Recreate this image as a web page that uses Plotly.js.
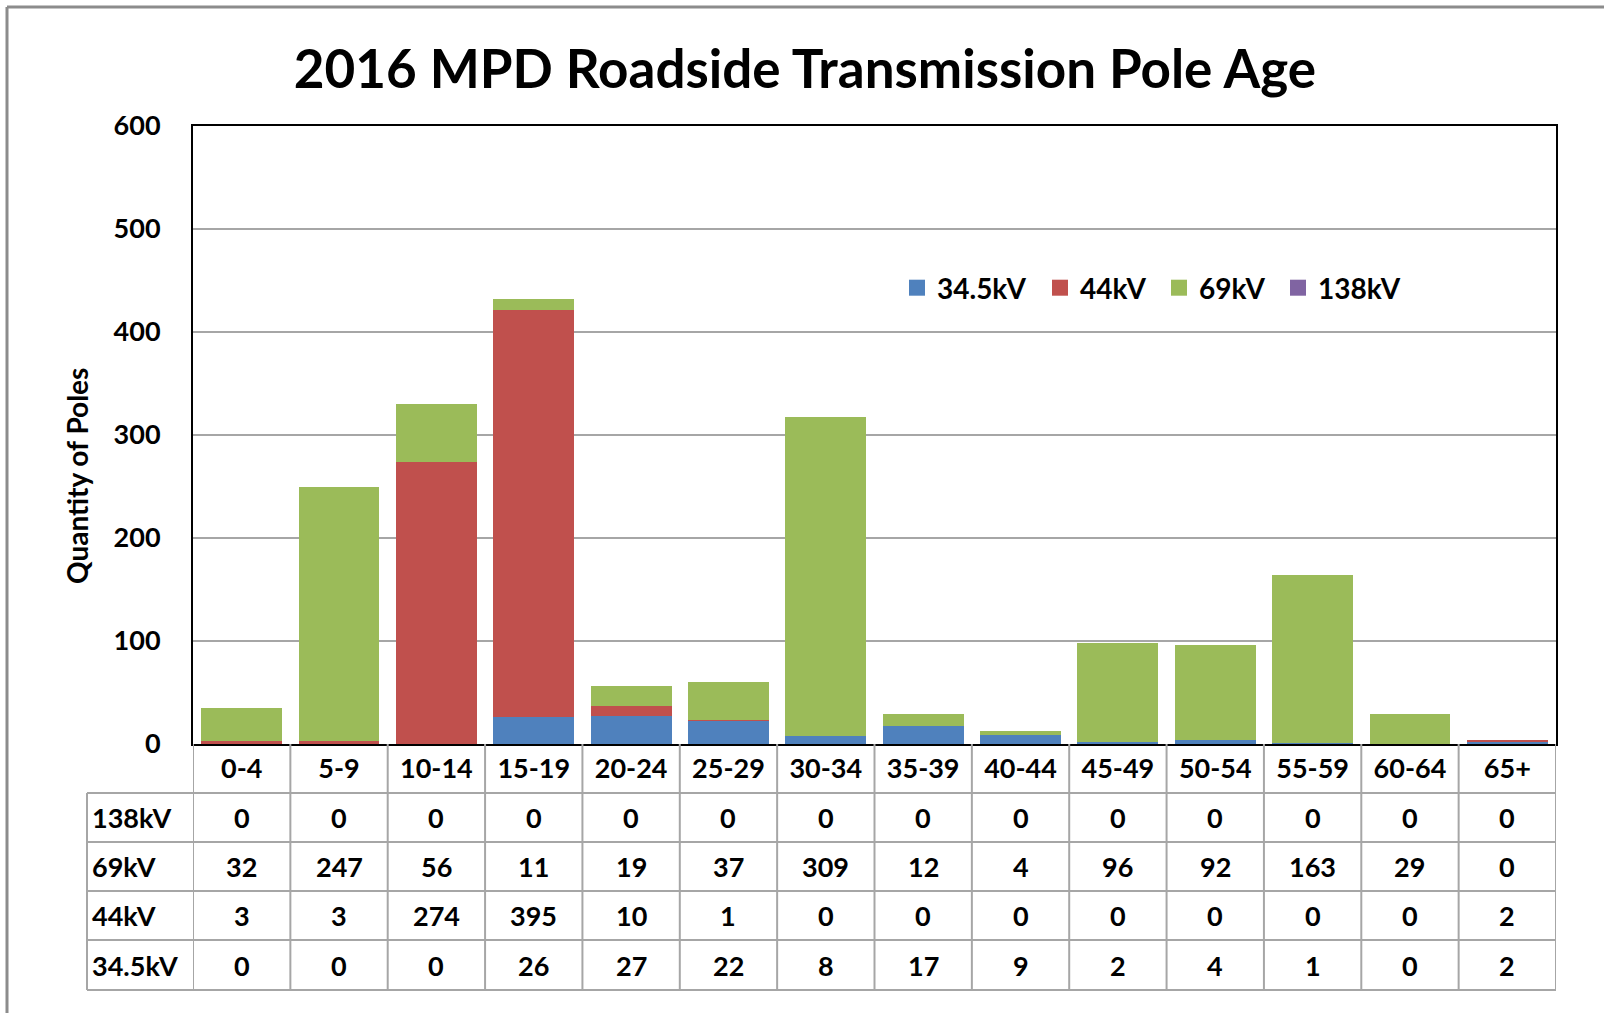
<!DOCTYPE html>
<html>
<head>
<meta charset="utf-8">
<script src="https://cdn.plot.ly/plotly-3.0.1.min.js"></script>
<style>html,body{margin:0;padding:0;background:#fff;}#chart{width:1604px;height:1013px;}</style>
</head>
<body>
<div id="chart"></div>
<script>
const categories = ["0-4","5-9","10-14","15-19","20-24","25-29","30-34","35-39","40-44","45-49","50-54","55-59","60-64","65+"];
const seriesNames = ["34.5kV","44kV","69kV","138kV"];
const v345 = [0,0,0,26,27,22,8,17,9,2,4,1,0,2];
const v44  = [3,3,274,395,10,1,0,0,0,0,0,0,0,2];
const v69  = [32,247,56,11,19,37,309,12,4,96,92,163,29,0];
const v138 = [0,0,0,0,0,0,0,0,0,0,0,0,0,0];
const colors = ["#4F81BD","#C0504D","#9BBB59","#8064A2"];
const tableRows = ["138kV","69kV","44kV","34.5kV"];
const yTicks = [0,100,200,300,400,500,600];

const FONT = "Lato, 'Open Sans', sans-serif";
const W = 1604, H = 1013;
const L = 193, R = 1556, T = 126, B = 744;
const pw = R - L, ph = B - T;
const px2x = p => (p - L) / pw;
const py2y = p => (B - p) / ph;

const seriesVals = [v345, v44, v69, v138];
const legendIds = ["legend", "legend2", "legend3", "legend4"];
const data = [];
seriesVals.forEach((vals, i) => {
  data.push({
    type: "bar",
    name: seriesNames[i],
    x: categories,
    y: vals,
    legendgroup: seriesNames[i],
    showlegend: false,
    marker: {color: colors[i], line: {width: 0}},
    hoverinfo: "x+y+name"
  });
});
// legend entries (square swatches like the original)
seriesNames.forEach((name, i) => {
  data.push({
    type: "scatter", mode: "markers",
    name: name, x: [null], y: [null],
    legendgroup: name, legend: legendIds[i], showlegend: true,
    marker: {symbol: "square", size: 19, color: colors[i]},
    hoverinfo: "skip"
  });
});

const rowEdges = [744, 793, 842, 891, 940, 990];
const tableLeft = 87;
const gridColor = "#A6A6A6";
const shapes = [];
const annotations = [];

for (let r = 1; r < rowEdges.length; r++) {
  shapes.push({type: "line", xref: "paper", yref: "paper", x0: px2x(tableLeft), x1: 1, y0: py2y(rowEdges[r]), y1: py2y(rowEdges[r]), line: {color: gridColor, width: 2}, layer: "above"});
}
for (let c = 0; c <= categories.length; c++) {
  shapes.push({type: "line", xref: "x", yref: "paper", x0: c - 0.5, x1: c - 0.5, y0: py2y(rowEdges[0]), y1: py2y(rowEdges[5]), line: {color: gridColor, width: 2}, layer: "above"});
}
shapes.push({type: "line", xref: "paper", yref: "paper", x0: px2x(tableLeft), x1: px2x(tableLeft), y0: py2y(rowEdges[1]), y1: py2y(rowEdges[5]), line: {color: gridColor, width: 2}});
shapes.push({type: "line", xref: "paper", yref: "paper", x0: px2x(7), x1: px2x(7), y0: py2y(7), y1: py2y(1013), line: {color: "#8C8C8C", width: 3}});
shapes.push({type: "line", xref: "paper", yref: "paper", x0: px2x(7), x1: px2x(1604), y0: py2y(7), y1: py2y(7), line: {color: "#8C8C8C", width: 3}});

const rowData = [v138, v69, v44, v345];
const CELL = 27;
tableRows.forEach((name, r) => {
  const yc = py2y((rowEdges[r + 1] + rowEdges[r + 2]) / 2);
  annotations.push({xref: "paper", yref: "paper", x: px2x(tableLeft + 3), y: yc, xanchor: "left", yanchor: "middle", text: "<b>" + name + "</b>", showarrow: false, font: {family: FONT, size: CELL, color: "#000"}});
  rowData[r].forEach((v, c) => {
    annotations.push({xref: "x", yref: "paper", x: categories[c], y: yc, xanchor: "center", yanchor: "middle", text: "<b>" + v + "</b>", showarrow: false, font: {family: FONT, size: CELL, color: "#000"}});
  });
});
// y-axis title
annotations.push({xref: "paper", yref: "paper", x: px2x(77), y: py2y(476), xanchor: "center", yanchor: "middle", textangle: -90, text: "<b>Quantity of Poles</b>", showarrow: false, font: {family: FONT, size: 28, color: "#000"}});

const legendX = [897, 1040, 1159, 1278];
const legendBase = {
  orientation: "h", traceorder: "normal",
  xanchor: "left", y: py2y(288), yanchor: "middle",
  font: {family: FONT, size: 28, color: "#000", weight: "bold"},
  bgcolor: "rgba(0,0,0,0)", borderwidth: 0
};

const layout = {
  width: W, height: H,
  margin: {l: L, r: W - R, t: T, b: H - B, pad: 0},
  paper_bgcolor: "#fff", plot_bgcolor: "#fff",
  barmode: "stack",
  bargap: 0.17,
  showlegend: true,
  title: {text: "<b>2016 MPD Roadside Transmission Pole Age</b>", x: 805 / W, xanchor: "center", y: 1 - 69 / H, yanchor: "middle", font: {family: FONT, size: 53, color: "#000"}},
  font: {family: FONT, color: "#000"},
  xaxis: {
    type: "category", range: [-0.5, categories.length - 0.5],
    showline: true, linecolor: "#000", linewidth: 2, mirror: true,
    showgrid: false, zeroline: false,
    ticks: "", ticklabelstandoff: 0,
    tickfont: {family: FONT, size: CELL, color: "#000", weight: "bold"},
    fixedrange: true
  },
  yaxis: {
    range: [0, 600], tickvals: yTicks,
    showline: true, linecolor: "#000", linewidth: 2, mirror: true,
    showgrid: true, gridcolor: "#A6A6A6", gridwidth: 1.5, zeroline: false,
    ticks: "", ticklabelstandoff: 25,
    tickfont: {family: FONT, size: 27, color: "#000", weight: "bold"},
    fixedrange: true
  },
  legend: Object.assign({}, legendBase, {x: px2x(legendX[0])}),
  legend2: Object.assign({}, legendBase, {x: px2x(legendX[1])}),
  legend3: Object.assign({}, legendBase, {x: px2x(legendX[2])}),
  legend4: Object.assign({}, legendBase, {x: px2x(legendX[3])}),
  shapes: shapes,
  annotations: annotations
};

Plotly.newPlot("chart", data, layout, {displayModeBar: false, staticPlot: true});
</script>
</body>
</html>
